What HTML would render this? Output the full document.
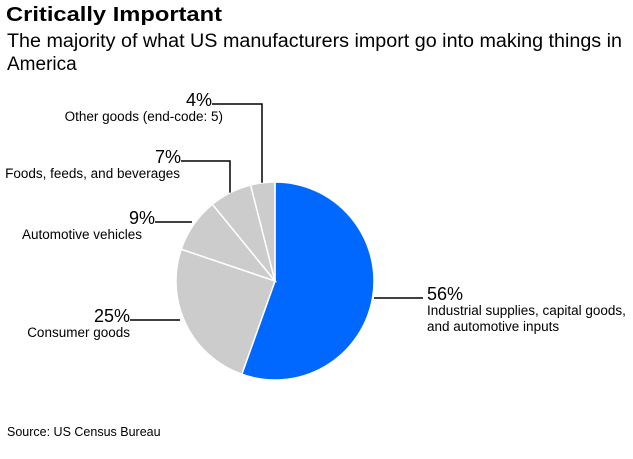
<!DOCTYPE html>
<html><head><meta charset="utf-8"><style>
body{margin:0;background:#fff;width:633px;height:454px;overflow:hidden;font-family:"Liberation Sans",sans-serif}
</style></head><body>
<svg width="633" height="454">
<text x="6" y="21" font-size="20" font-weight="bold" fill="#000" textLength="216" lengthAdjust="spacingAndGlyphs">Critically Important</text>
<text x="7" y="47" font-size="19" fill="#000" textLength="615" lengthAdjust="spacingAndGlyphs">The majority of what US manufacturers import go into making things in</text>
<text x="7" y="70" font-size="19" fill="#000">America</text>
<g id="pie"></g>
<g id="labels" font-size="13.5" fill="#000"></g>
<text x="7" y="436" font-size="12.5" fill="#000">Source: US Census Bureau</text>
</svg>
<script>
const categories=["Industrial supplies, capital goods, and automotive inputs","Consumer goods","Automotive vehicles","Foods, feeds, and beverages","Other goods (end-code: 5)"];
const values=[56,25,9,7,4];
const colors=["#0068ff","#cccccc","#cccccc","#cccccc","#cccccc"];
const cx=275,cy=281,r=99;
const NS="http://www.w3.org/2000/svg";
const pie=document.getElementById('pie');
const total=values.reduce((a,b)=>a+b,0);
let a0=0;const mids=[];
function pt(a,rr){return [cx+rr*Math.sin(a),cy-rr*Math.cos(a)];}
values.forEach((v,i)=>{
 const a1=a0+v/total*2*Math.PI;
 const p0=pt(a0,r),p1=pt(a1,r);
 const p=document.createElementNS(NS,'path');
 p.setAttribute('d',`M${cx},${cy}L${p0[0]},${p0[1]}A${r},${r} 0 ${a1-a0>Math.PI?1:0} 1 ${p1[0]},${p1[1]}Z`);
 p.setAttribute('fill',colors[i]);p.setAttribute('stroke','#fff');p.setAttribute('stroke-width','1.5');
 
 
 pie.appendChild(p);
 mids.push((a0+a1)/2);a0=a1;
});
const L=document.getElementById('labels');
function el(tag,attrs,txt){const e=document.createElementNS(NS,tag);for(const k in attrs)e.setAttribute(k,attrs[k]);if(txt)e.textContent=txt;L.appendChild(e);return e;}
const lay=[
 {px:427,ly:298,lx1:374,tx:427,anchor:'start',lines:["Industrial supplies, capital goods,","and automotive inputs"]},
 {px:130,ly:320,lx1:130,lx2:180,tx:130,anchor:'end',lines:["Consumer goods"]},
 {px:155,ly:222,lx1:155,lx2:192,tx:142,anchor:'end',lines:["Automotive vehicles"]},
 {px:181,ly:161,lx1:181,vx:230,tx:180,anchor:'end',lines:["Foods, feeds, and beverages"]},
 {px:212,ly:104,lx1:212,vx:262,tx:223,anchor:'end',lines:["Other goods (end-code: 5)"]}
];
values.forEach((v,i)=>{
 const o=lay[i];
 let pts;
 if(o.vx!==undefined){const e=pt(mids[i],r);pts=`${o.lx1},${o.ly} ${o.vx},${o.ly} ${o.vx},${e[1]}`;}
 else if(o.lx2!==undefined) pts=`${o.lx1},${o.ly} ${o.lx2},${o.ly}`;
 else pts=`${o.lx1},${o.ly} 423,${o.ly}`;
 const pl=el('polyline',{points:pts,fill:'none',stroke:'#000','stroke-width':1.5});
 
 
 const t=el('text',{x:o.px,y:o.ly+2,'font-size':18,'text-anchor':o.anchor},v+'%');
 
 
 o.lines.forEach((ln,j)=>{
  const c=el('text',{x:o.tx,y:o.ly+17+j*16,'text-anchor':o.anchor},ln);
  
  
 });
});
</script>
</body></html>
